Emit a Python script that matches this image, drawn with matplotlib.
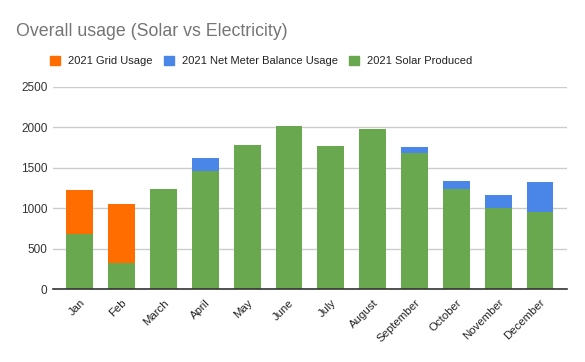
import numpy as np
import matplotlib
matplotlib.use("Agg")
import matplotlib.pyplot as plt
from matplotlib.patches import Patch

plt.rcParams['font.family'] = ['Liberation Sans', 'DejaVu Sans']

months = ["Jan", "Feb", "March", "April", "May", "June", "July", "August",
          "September", "October", "November", "December"]
solar = [685, 320, 1236, 1457, 1778, 2024, 1765, 1975, 1679, 1236, 1005, 956]
net_meter = [0, 0, 0, 161, 0, 0, 0, 0, 74, 98, 157, 366]
grid = [538, 731, 0, 0, 0, 0, 0, 0, 0, 0, 0, 0]
yticks = [0, 500, 1000, 1500, 2000, 2500]

c_grid = "#FF6D01"
c_net = "#4A86E8"
c_solar = "#6AA84F"

fig = plt.figure(figsize=(5.85, 3.62), dpi=100)
ax = fig.add_axes([0.0906, 0.2008, 0.8784, 0.5589])

x = np.arange(len(months))
w = 0.64
solar_a = np.array(solar)
net_a = np.array(net_meter)
ax.bar(x, solar, w, color=c_solar, zorder=3)
ax.bar(x, net_meter, w, bottom=solar_a, color=c_net, zorder=3)
ax.bar(x, grid, w, bottom=solar_a + net_a, color=c_grid, zorder=3)

ax.set_xlim(-0.64, len(months) - 1 + 0.64)
ax.set_ylim(0, 2500)
ax.set_yticks(yticks)
ax.set_yticklabels([str(v) for v in yticks], fontsize=8.5, color="#333333")
ax.set_xticks(x)
ax.set_xticklabels(months, rotation=45, ha="right", rotation_mode="anchor",
                   fontsize=8.2, color="#222222")
ax.tick_params(axis="both", length=0, pad=4)
ax.tick_params(axis="x", pad=6)
ax.grid(axis="y", color="#cccccc", linewidth=1, zorder=0)
for s in ["top", "right", "left"]:
    ax.spines[s].set_visible(False)
ax.spines["bottom"].set_color("#333333")
ax.spines["bottom"].set_linewidth(1.2)
ax.spines["bottom"].set_zorder(4)

fig.text(0.027, 0.914, "Overall usage (Solar vs Electricity)", fontsize=12.8,
         color="#757575", va="center", ha="left")

handles = [Patch(color=c_grid), Patch(color=c_net), Patch(color=c_solar)]
labels = ["2021 Grid Usage", "2021 Net Meter Balance Usage", "2021 Solar Produced"]
fig.legend(handles, labels, loc="center", bbox_to_anchor=(0.446, 0.832), ncol=3,
           frameon=False, fontsize=8, handlelength=0.9, handleheight=0.9,
           handletextpad=0.72, columnspacing=1.0, labelcolor="#222222")

fig.savefig("out.png", dpi=100)
